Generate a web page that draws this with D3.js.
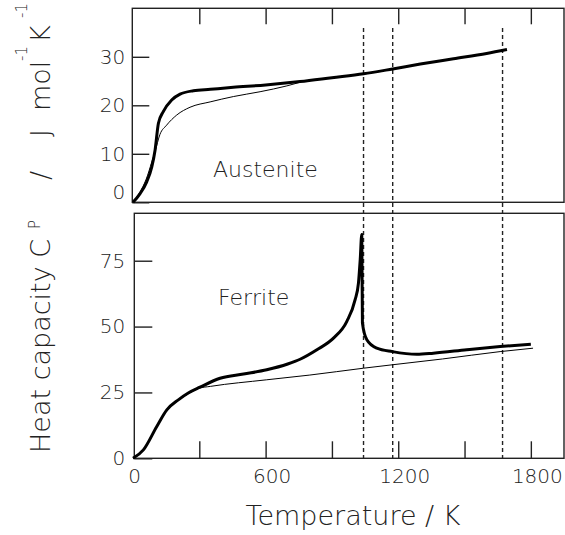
<!DOCTYPE html>
<html>
<head>
<meta charset="utf-8">
<script src="https://cdn.jsdelivr.net/npm/d3@7"></script>
<style>
  body { margin: 0; background: #fff; }
  text { font-family: "DejaVu Sans", sans-serif; font-weight: 200; fill: #222; }
</style>
</head>
<body>
<div id="chart"></div>
<script>
// temperatures (K) and heat capacities (J mol-1 K-1)
const austThickT  = [0, 32, 62, 85, 100, 115, 137, 175, 213, 273, 350, 454, 600, 756, 900, 1043, 1175, 1300, 1450, 1600, 1692];
const austThickCp = [0, 1.8, 4.2, 7.3, 10.8, 16.3, 18.7, 21.1, 22.3, 23.0, 23.3, 23.7, 24.2, 24.9, 25.7, 26.5, 27.5, 28.5, 29.6, 30.7, 31.5];
const austThinT   = [0, 30, 60, 85, 100, 122, 152, 198, 258, 349, 454, 575, 696, 760];
const austThinCp  = [0, 2.0, 4.8, 8.3, 10.5, 14.0, 15.9, 18.0, 19.6, 20.7, 21.8, 22.8, 24.0, 24.8];

const ferThickT  = [0, 47, 107, 153, 205, 250, 303, 394, 500, 605, 700, 756, 832, 907, 967, 1005, 1020, 1028, 1035, 1038, 1058, 1103, 1174, 1284, 1359, 1510, 1661, 1800];
const ferThickCp = [0, 3.2, 12.0, 18.4, 22.2, 24.8, 27.0, 30.4, 32.0, 33.6, 35.8, 37.6, 41.2, 45.6, 51.9, 60.2, 66.5, 75.4, 85.0, 51.3, 45.0, 41.8, 40.5, 39.5, 39.9, 41.2, 42.4, 43.3];
const ferThinT   = [0, 47, 107, 153, 205, 250, 300, 350, 605, 800, 1043, 1174, 1400, 1661, 1810];
const ferThinCp  = [0, 3.0, 11.8, 18.2, 22.0, 24.5, 26.6, 27.3, 29.8, 31.6, 34.2, 35.5, 37.7, 40.5, 41.8];

const transitionT = [1043, 1175, 1672];

const xTicks = [0, 300, 600, 900, 1200, 1500, 1800];
const xLabels = [0, 600, 1200, 1800];
const topYTicks = [0, 10, 20, 30];
const botYTicks = [0, 25, 50, 75];

const width = 565, height = 535;

const svg = d3.select("#chart").append("svg")
    .attr("width", width)
    .attr("height", height);

// scales
var x = d3.scaleLinear().domain([0, 1950]).range([133, 564]);
var yTop = d3.scaleLinear().domain([0, 40]).range([202.3, 8.3]);
var yBot = d3.scaleLinear().domain([0, 93]).range([458.3, 213.3]);

function toPts(ts, cs) { return ts.map(function(t, i) { return [t, cs[i]]; }); }

// frames
svg.append("rect")
    .attr("x", 132.3).attr("y", yTop(40))
    .attr("width", x(1950) - 132.3).attr("height", yTop(0) - yTop(40))
    .attr("fill", "none").attr("stroke", "#222").attr("stroke-width", 1.4);
svg.append("rect")
    .attr("x", 134.3).attr("y", yBot(93))
    .attr("width", x(1950) - 134.3).attr("height", yBot(0) - yBot(93))
    .attr("fill", "none").attr("stroke", "#222").attr("stroke-width", 1.4);

// axes
function styleAxis(g) {
    g.select(".domain").remove();
    g.selectAll(".tick line").attr("stroke", "#222").attr("stroke-width", 1.4);
    g.selectAll(".tick text").attr("font-size", 20).attr("fill", "#222")
        .attr("font-family", null);
}

svg.append("g")
    .attr("transform", "translate(132.3,0)")
    .call(d3.axisLeft(yTop).tickValues(topYTicks).tickSize(-17).tickPadding(7))
    .call(styleAxis)
    .call(function(g) {
        g.selectAll(".tick text").attr("dy", function(d) { return d === 0 ? "-0.2em" : "0.32em"; });
    });

svg.append("g")
    .attr("transform", "translate(0," + yTop(40) + ")")
    .call(d3.axisTop(x).tickValues(xTicks.filter(function(d) { return d > 0; }))
        .tickSize(-16).tickFormat(""))
    .call(styleAxis);

svg.append("g")
    .attr("transform", "translate(134.3,0)")
    .call(d3.axisLeft(yBot).tickValues(botYTicks).tickSize(-18).tickPadding(9))
    .call(styleAxis);

svg.append("g")
    .attr("transform", "translate(0," + yBot(0) + ")")
    .call(d3.axisBottom(x).tickValues(xTicks).tickSize(-17).tickPadding(11)
        .tickFormat(function(d) { return xLabels.indexOf(d) >= 0 ? d : ""; }))
    .call(styleAxis)
    .call(function(g) {
        g.selectAll(".tick line").filter(function(d) { return d === 0; }).remove();
        g.selectAll(".tick text").attr("dx", function(d) { return d === 0 ? 1 : 6; });
    });

// phase transition markers
svg.selectAll(".trans")
    .data(transitionT)
    .enter().append("line")
    .attr("class", "trans")
    .attr("x1", function(d) { return x(d); })
    .attr("x2", function(d) { return x(d); })
    .attr("y1", 28)
    .attr("y2", yBot(0))
    .attr("stroke", "#222")
    .attr("stroke-width", 1.4)
    .attr("stroke-dasharray", "4,3");

// curves
var lineTop = d3.line().x(function(d) { return x(d[0]); }).y(function(d) { return yTop(d[1]); })
    .curve(d3.curveMonotoneX);
var lineBot = d3.line().x(function(d) { return x(d[0]); }).y(function(d) { return yBot(d[1]); })
    .curve(d3.curveMonotoneX);

svg.append("path").attr("d", lineTop(toPts(austThinT, austThinCp)))
    .attr("fill", "none").attr("stroke", "#000").attr("stroke-width", 1);
svg.append("path").attr("d", lineTop(toPts(austThickT, austThickCp)))
    .attr("fill", "none").attr("stroke", "#000").attr("stroke-width", 3);

svg.append("path").attr("d", lineBot(toPts(ferThinT, ferThinCp)))
    .attr("fill", "none").attr("stroke", "#000").attr("stroke-width", 1);
svg.append("path").attr("d", lineBot(toPts(ferThickT, ferThickCp)))
    .attr("fill", "none").attr("stroke", "#000").attr("stroke-width", 3)
    .attr("stroke-linejoin", "round");

// panel labels
svg.append("text").attr("x", 213).attr("y", 177).attr("font-size", 22).text("Austenite");
svg.append("text").attr("x", 218).attr("y", 305).attr("font-size", 22).text("Ferrite");

// x title
svg.append("text").attr("x", 353).attr("y", 525).attr("text-anchor", "middle")
    .attr("font-size", 27).text("Temperature / K");

// y title, rotated
var yt = svg.append("g").attr("transform", "translate(50,0) rotate(-90)");
yt.append("text").attr("x", -453).attr("y", 0).attr("font-size", 27).text("Heat capacity C");
yt.append("text").attr("x", -229).attr("y", -10).attr("font-size", 15).text("P");
yt.append("text").attr("x", -180).attr("y", 0).attr("font-size", 27).text("/");
yt.append("text").attr("x", -137).attr("y", 0).attr("font-size", 27).text("J");
yt.append("text").attr("x", -111).attr("y", 0).attr("font-size", 27).text("mol");
yt.append("text").attr("x", -61).attr("y", -23).attr("font-size", 15).text("-1");
yt.append("text").attr("x", -43).attr("y", 0).attr("font-size", 27).text("K");
yt.append("text").attr("x", -18).attr("y", -23).attr("font-size", 15).text("-1");
</script>
</body>
</html>
